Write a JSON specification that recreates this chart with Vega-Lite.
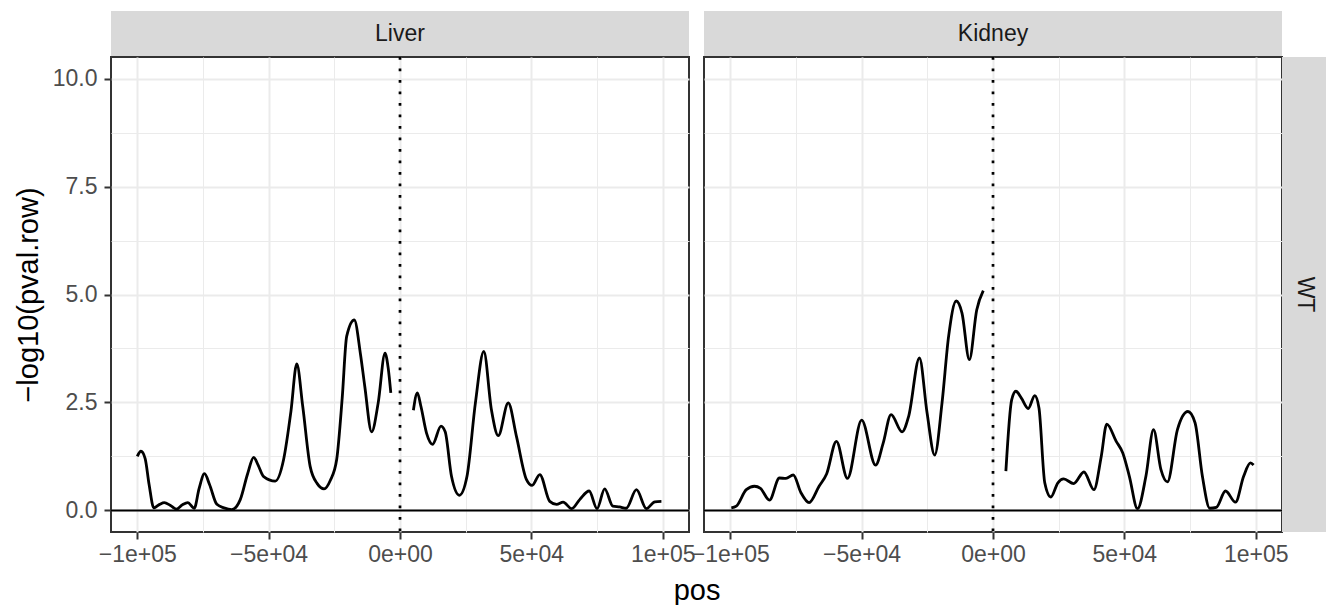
{
  "$schema": "https://vega.github.io/schema/vega-lite/v6.json",
  "background": "white",
  "padding": {"left": 13, "top": 11, "right": 0, "bottom": 0},
  "datasets": {
    "curve": [
      {"tissue":"Liver","seg":"a","pos":-100000,"val":1.25},{"tissue":"Liver","seg":"a","pos":-98600,"val":1.37},{"tissue":"Liver","seg":"a","pos":-97000,"val":1.2},{"tissue":"Liver","seg":"a","pos":-95500,"val":0.6},{"tissue":"Liver","seg":"a","pos":-93700,"val":0.06},{"tissue":"Liver","seg":"a","pos":-91500,"val":0.14},{"tissue":"Liver","seg":"a","pos":-89700,"val":0.18},{"tissue":"Liver","seg":"a","pos":-87500,"val":0.12},{"tissue":"Liver","seg":"a","pos":-85100,"val":0.03},{"tissue":"Liver","seg":"a","pos":-82800,"val":0.13},{"tissue":"Liver","seg":"a","pos":-80800,"val":0.18},{"tissue":"Liver","seg":"a","pos":-78300,"val":0.05},{"tissue":"Liver","seg":"a","pos":-76500,"val":0.5},{"tissue":"Liver","seg":"a","pos":-74400,"val":0.85},{"tissue":"Liver","seg":"a","pos":-72500,"val":0.6},{"tissue":"Liver","seg":"a","pos":-69700,"val":0.14},{"tissue":"Liver","seg":"a","pos":-67000,"val":0.06},{"tissue":"Liver","seg":"a","pos":-64000,"val":0.02},{"tissue":"Liver","seg":"a","pos":-60800,"val":0.25},{"tissue":"Liver","seg":"a","pos":-58000,"val":0.85},{"tissue":"Liver","seg":"a","pos":-55700,"val":1.23},{"tissue":"Liver","seg":"a","pos":-54000,"val":1.05},{"tissue":"Liver","seg":"a","pos":-52000,"val":0.79},{"tissue":"Liver","seg":"a","pos":-47500,"val":0.68},{"tissue":"Liver","seg":"a","pos":-44300,"val":1.18},{"tissue":"Liver","seg":"a","pos":-41500,"val":2.3},{"tissue":"Liver","seg":"a","pos":-39300,"val":3.39},{"tissue":"Liver","seg":"a","pos":-37000,"val":2.4},{"tissue":"Liver","seg":"a","pos":-34200,"val":1.02},{"tissue":"Liver","seg":"a","pos":-31500,"val":0.62},{"tissue":"Liver","seg":"a","pos":-28900,"val":0.5},{"tissue":"Liver","seg":"a","pos":-26500,"val":0.7},{"tissue":"Liver","seg":"a","pos":-24100,"val":1.18},{"tissue":"Liver","seg":"a","pos":-22000,"val":2.6},{"tissue":"Liver","seg":"a","pos":-20300,"val":4.03},{"tissue":"Liver","seg":"a","pos":-17400,"val":4.41},{"tissue":"Liver","seg":"a","pos":-15000,"val":3.6},{"tissue":"Liver","seg":"a","pos":-13400,"val":2.87},{"tissue":"Liver","seg":"a","pos":-10800,"val":1.82},{"tissue":"Liver","seg":"a","pos":-8300,"val":2.49},{"tissue":"Liver","seg":"a","pos":-5700,"val":3.64},{"tissue":"Liver","seg":"a","pos":-4500,"val":3.3},{"tissue":"Liver","seg":"a","pos":-3500,"val":2.72},
      {"tissue":"Liver","seg":"b","pos":5100,"val":2.32},{"tissue":"Liver","seg":"b","pos":6600,"val":2.72},{"tissue":"Liver","seg":"b","pos":8000,"val":2.4},{"tissue":"Liver","seg":"b","pos":10100,"val":1.79},{"tissue":"Liver","seg":"b","pos":12400,"val":1.53},{"tissue":"Liver","seg":"b","pos":15600,"val":1.95},{"tissue":"Liver","seg":"b","pos":17200,"val":1.82},{"tissue":"Liver","seg":"b","pos":19600,"val":0.79},{"tissue":"Liver","seg":"b","pos":22600,"val":0.35},{"tissue":"Liver","seg":"b","pos":25500,"val":0.79},{"tissue":"Liver","seg":"b","pos":28700,"val":2.49},{"tissue":"Liver","seg":"b","pos":31900,"val":3.68},{"tissue":"Liver","seg":"b","pos":34800,"val":2.33},{"tissue":"Liver","seg":"b","pos":37400,"val":1.73},{"tissue":"Liver","seg":"b","pos":41200,"val":2.49},{"tissue":"Liver","seg":"b","pos":44300,"val":1.72},{"tissue":"Liver","seg":"b","pos":48100,"val":0.72},{"tissue":"Liver","seg":"b","pos":50300,"val":0.58},{"tissue":"Liver","seg":"b","pos":53200,"val":0.83},{"tissue":"Liver","seg":"b","pos":57000,"val":0.21},{"tissue":"Liver","seg":"b","pos":59600,"val":0.14},{"tissue":"Liver","seg":"b","pos":62100,"val":0.19},{"tissue":"Liver","seg":"b","pos":65300,"val":0.04},{"tissue":"Liver","seg":"b","pos":68400,"val":0.25},{"tissue":"Liver","seg":"b","pos":72000,"val":0.45},{"tissue":"Liver","seg":"b","pos":75000,"val":0.04},{"tissue":"Liver","seg":"b","pos":77900,"val":0.5},{"tissue":"Liver","seg":"b","pos":81000,"val":0.1},{"tissue":"Liver","seg":"b","pos":83600,"val":0.08},{"tissue":"Liver","seg":"b","pos":86100,"val":0.05},{"tissue":"Liver","seg":"b","pos":90000,"val":0.48},{"tissue":"Liver","seg":"b","pos":93800,"val":0.04},{"tissue":"Liver","seg":"b","pos":97000,"val":0.2},{"tissue":"Liver","seg":"b","pos":99500,"val":0.21},
      {"tissue":"Kidney","seg":"a","pos":-99600,"val":0.06},{"tissue":"Kidney","seg":"a","pos":-97700,"val":0.1},{"tissue":"Kidney","seg":"a","pos":-93900,"val":0.48},{"tissue":"Kidney","seg":"a","pos":-90800,"val":0.56},{"tissue":"Kidney","seg":"a","pos":-88500,"val":0.51},{"tissue":"Kidney","seg":"a","pos":-85100,"val":0.24},{"tissue":"Kidney","seg":"a","pos":-81300,"val":0.75},{"tissue":"Kidney","seg":"a","pos":-78800,"val":0.74},{"tissue":"Kidney","seg":"a","pos":-76000,"val":0.82},{"tissue":"Kidney","seg":"a","pos":-73100,"val":0.41},{"tissue":"Kidney","seg":"a","pos":-70000,"val":0.18},{"tissue":"Kidney","seg":"a","pos":-66200,"val":0.56},{"tissue":"Kidney","seg":"a","pos":-63300,"val":0.85},{"tissue":"Kidney","seg":"a","pos":-59600,"val":1.6},{"tissue":"Kidney","seg":"a","pos":-55400,"val":0.74},{"tissue":"Kidney","seg":"a","pos":-50000,"val":2.09},{"tissue":"Kidney","seg":"a","pos":-44700,"val":1.05},{"tissue":"Kidney","seg":"a","pos":-41800,"val":1.56},{"tissue":"Kidney","seg":"a","pos":-38800,"val":2.22},{"tissue":"Kidney","seg":"a","pos":-34600,"val":1.82},{"tissue":"Kidney","seg":"a","pos":-32100,"val":2.18},{"tissue":"Kidney","seg":"a","pos":-28000,"val":3.53},{"tissue":"Kidney","seg":"a","pos":-25100,"val":2.26},{"tissue":"Kidney","seg":"a","pos":-22200,"val":1.28},{"tissue":"Kidney","seg":"a","pos":-19400,"val":2.49},{"tissue":"Kidney","seg":"a","pos":-16900,"val":4.03},{"tissue":"Kidney","seg":"a","pos":-14000,"val":4.85},{"tissue":"Kidney","seg":"a","pos":-11800,"val":4.57},{"tissue":"Kidney","seg":"a","pos":-9000,"val":3.49},{"tissue":"Kidney","seg":"a","pos":-6200,"val":4.64},{"tissue":"Kidney","seg":"a","pos":-3700,"val":5.09},
      {"tissue":"Kidney","seg":"b","pos":4900,"val":0.91},{"tissue":"Kidney","seg":"b","pos":7100,"val":2.56},{"tissue":"Kidney","seg":"b","pos":8700,"val":2.76},{"tissue":"Kidney","seg":"b","pos":10800,"val":2.6},{"tissue":"Kidney","seg":"b","pos":13400,"val":2.36},{"tissue":"Kidney","seg":"b","pos":15900,"val":2.66},{"tissue":"Kidney","seg":"b","pos":17500,"val":2.37},{"tissue":"Kidney","seg":"b","pos":19700,"val":0.64},{"tissue":"Kidney","seg":"b","pos":22000,"val":0.31},{"tissue":"Kidney","seg":"b","pos":24700,"val":0.64},{"tissue":"Kidney","seg":"b","pos":26900,"val":0.73},{"tissue":"Kidney","seg":"b","pos":30700,"val":0.62},{"tissue":"Kidney","seg":"b","pos":34600,"val":0.89},{"tissue":"Kidney","seg":"b","pos":38400,"val":0.48},{"tissue":"Kidney","seg":"b","pos":41200,"val":1.25},{"tissue":"Kidney","seg":"b","pos":43300,"val":2.0},{"tissue":"Kidney","seg":"b","pos":46900,"val":1.6},{"tissue":"Kidney","seg":"b","pos":49400,"val":1.33},{"tissue":"Kidney","seg":"b","pos":51900,"val":0.79},{"tissue":"Kidney","seg":"b","pos":55000,"val":0.04},{"tissue":"Kidney","seg":"b","pos":58200,"val":0.79},{"tissue":"Kidney","seg":"b","pos":61100,"val":1.87},{"tissue":"Kidney","seg":"b","pos":63900,"val":0.95},{"tissue":"Kidney","seg":"b","pos":66400,"val":0.66},{"tissue":"Kidney","seg":"b","pos":70200,"val":1.87},{"tissue":"Kidney","seg":"b","pos":74200,"val":2.29},{"tissue":"Kidney","seg":"b","pos":76900,"val":2.03},{"tissue":"Kidney","seg":"b","pos":79700,"val":0.79},{"tissue":"Kidney","seg":"b","pos":82500,"val":0.05},{"tissue":"Kidney","seg":"b","pos":85000,"val":0.07},{"tissue":"Kidney","seg":"b","pos":88500,"val":0.45},{"tissue":"Kidney","seg":"b","pos":92300,"val":0.19},{"tissue":"Kidney","seg":"b","pos":95400,"val":0.79},{"tissue":"Kidney","seg":"b","pos":98000,"val":1.1},{"tissue":"Kidney","seg":"b","pos":99200,"val":1.05}
    ]
  },
  "concat": [
    {
      "width": 578, "height": 46,
      "view": {"fill": "#D9D9D9"},
      "data": {"values": [{"tissue": "Liver"}]},
      "mark": {"type": "text", "fontSize": 23, "color": "#1A1A1A", "font": "Liberation Sans", "align": "center", "baseline": "middle"},
      "encoding": {"text": {"field": "tissue"}}
    },
    {
      "width": 15, "height": 46,
      "view": {"stroke": null, "fill": null},
      "data": {"values": []},
      "mark": "point"
    },
    {
      "width": 578, "height": 46,
      "view": {"fill": "#D9D9D9"},
      "data": {"values": [{"tissue": "Kidney"}]},
      "mark": {"type": "text", "fontSize": 23, "color": "#1A1A1A", "font": "Liberation Sans", "align": "center", "baseline": "middle"},
      "encoding": {"text": {"field": "tissue"}}
    },
    {
      "width": 45, "height": 46,
      "view": {"stroke": null, "fill": null},
      "data": {"values": []},
      "mark": "point"
    },
    {
      "width": 578, "height": 475,
      "layer": [
        {
          "data": {"name": "curve"},
          "transform": [{"filter": "datum.tissue === 'Liver'"}],
          "mark": {"type": "line", "color": "black", "strokeWidth": 2.8, "interpolate": "monotone"},
          "encoding": {
            "x": {"field": "pos", "type": "quantitative", "scale": {"domain": [-110000, 110000], "nice": false, "zero": false},
              "axis": {"title": "pos", "titleX": 585.5, "titlePadding": 10,
                "values": [-100000, -75000, -50000, -25000, 0, 25000, 50000, 75000, 100000],
                "labelExpr": "datum.value == -100000 ? '\u22121e+05' : datum.value == -50000 ? '\u22125e+04' : datum.value == 0 ? '0e+00' : datum.value == 50000 ? '5e+04' : datum.value == 100000 ? '1e+05' : ''",
                "grid": true,
                "gridWidth": {"condition": {"test": "datum.value % 50000 === 0", "value": 2}, "value": 1},
                "tickOpacity": {"condition": {"test": "datum.value % 50000 === 0", "value": 1}, "value": 0},
                "labelPadding": 4}},
            "y": {"field": "val", "type": "quantitative", "scale": {"domain": [-0.5, 10.5], "nice": false, "zero": false},
              "axis": {"title": "\u2212log10(pval.row)", "titlePadding": 9,
                "values": [0, 1.25, 2.5, 3.75, 5, 6.25, 7.5, 8.75, 10],
                "labelExpr": "datum.value % 2.5 === 0 ? format(datum.value, '.1f') : ''",
                "grid": true,
                "gridWidth": {"condition": {"test": "datum.value % 2.5 === 0", "value": 2}, "value": 1},
                "tickOpacity": {"condition": {"test": "datum.value % 2.5 === 0", "value": 1}, "value": 0},
                "labelPadding": 7}},
            "detail": {"field": "seg", "type": "nominal"}
          }
        },
        {
          "data": {"values": [{"ref": 0}]},
          "mark": {"type": "rule", "color": "black", "strokeWidth": 2},
          "encoding": {"y": {"datum": 0, "type": "quantitative"}}
        },
        {
          "data": {"values": [{"ref": 0}]},
          "mark": {"type": "rule", "color": "black", "strokeWidth": 2.7, "strokeDash": [2.7, 8.8]},
          "encoding": {"x": {"datum": 0, "type": "quantitative"}}
        }
      ]
    },
    {
      "width": 15, "height": 475,
      "view": {"stroke": null, "fill": null},
      "data": {"values": []},
      "mark": "point"
    },
    {
      "width": 578, "height": 475,
      "layer": [
        {
          "data": {"name": "curve"},
          "transform": [{"filter": "datum.tissue === 'Kidney'"}],
          "mark": {"type": "line", "color": "black", "strokeWidth": 2.8, "interpolate": "monotone"},
          "encoding": {
            "x": {"field": "pos", "type": "quantitative", "scale": {"domain": [-110000, 110000], "nice": false, "zero": false},
              "axis": {"title": null,
                "values": [-100000, -75000, -50000, -25000, 0, 25000, 50000, 75000, 100000],
                "labelExpr": "datum.value == -100000 ? '\u22121e+05' : datum.value == -50000 ? '\u22125e+04' : datum.value == 0 ? '0e+00' : datum.value == 50000 ? '5e+04' : datum.value == 100000 ? '1e+05' : ''",
                "grid": true,
                "gridWidth": {"condition": {"test": "datum.value % 50000 === 0", "value": 2}, "value": 1},
                "tickOpacity": {"condition": {"test": "datum.value % 50000 === 0", "value": 1}, "value": 0},
                "labelPadding": 4}},
            "y": {"field": "val", "type": "quantitative", "scale": {"domain": [-0.5, 10.5], "nice": false, "zero": false},
              "axis": {"title": null, "labels": false, "ticks": false,
                "values": [0, 1.25, 2.5, 3.75, 5, 6.25, 7.5, 8.75, 10],
                "grid": true,
                "gridWidth": {"condition": {"test": "datum.value % 2.5 === 0", "value": 2}, "value": 1}}},
            "detail": {"field": "seg", "type": "nominal"}
          }
        },
        {
          "data": {"values": [{"ref": 0}]},
          "mark": {"type": "rule", "color": "black", "strokeWidth": 2},
          "encoding": {"y": {"datum": 0, "type": "quantitative"}}
        },
        {
          "data": {"values": [{"ref": 0}]},
          "mark": {"type": "rule", "color": "black", "strokeWidth": 2.7, "strokeDash": [2.7, 8.8]},
          "encoding": {"x": {"datum": 0, "type": "quantitative"}}
        }
      ]
    },
    {
      "width": 45, "height": 475,
      "view": {"fill": "#D9D9D9"},
      "data": {"values": [{"genotype": "WT"}]},
      "mark": {"type": "text", "fontSize": 23, "color": "#1A1A1A", "font": "Liberation Sans", "angle": 90, "align": "center", "baseline": "middle"},
      "encoding": {"text": {"field": "genotype"}}
    }
  ],
  "columns": 4,
  "spacing": 0,
  "bounds": "flush",
  "align": "each",
  "config": {
    "font": "Liberation Sans",
    "view": {"stroke": "#333333", "strokeWidth": 2},
    "axis": {
      "labelFont": "Liberation Sans", "labelFontSize": 23, "labelColor": "#4D4D4D",
      "tickColor": "#333333", "tickSize": 7, "tickWidth": 2,
      "domain": false, "gridColor": "#EBEBEB",
      "titleFont": "Liberation Sans", "titleFontSize": 29, "titleFontWeight": "normal", "titleColor": "black",
      "labelFlush": false, "labelOverlap": false, "labelBound": false
    }
  }
}
